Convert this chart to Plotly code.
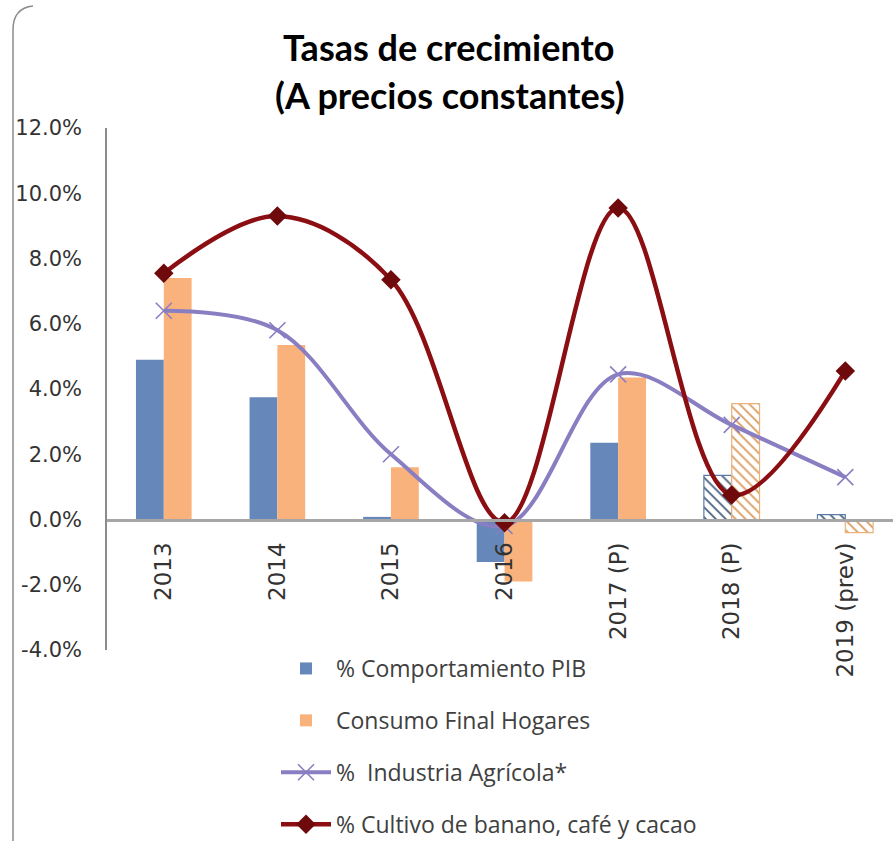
import plotly.graph_objects as go

categories = ["2013", "2014", "2015", "2016", "2017 (P)", "2018 (P)", "2019 (prev)"]
pib = [4.9, 3.75, 0.08, -1.3, 2.35, 1.35, 0.15]
consumo = [7.4, 5.35, 1.6, -1.9, 4.35, 3.55, -0.4]
industria = [6.4, 5.8, 2.0, -0.2, 4.45, 2.9, 1.3]
cultivo = [7.55, 9.3, 7.35, -0.1, 9.55, 0.75, 4.55]
hatched = [False, False, False, False, False, True, True]

y_tick_values = [-4, -2, 0, 2, 4, 6, 8, 10, 12]
y_tick_labels = ["-4.0%", "-2.0%", "0.0%", "2.0%", "4.0%", "6.0%", "8.0%", "10.0%", "12.0%"]

names = ["% Comportamiento PIB", "Consumo Final Hogares",
         "%  Industria Agrícola*", "% Cultivo de banano, café y cacao"]

W, H = 893, 841
L, R, T, B = 107, 0, 128, 191
pw, ph = W - L - R, H - T - B


def px(x):
    return (x - L) / pw


def py(y):
    return (H - B - y) / ph


BLUE = "#6587B9"
ORANGE = "#F9B27C"
PURPLE = "#8A7EC2"
RED = "#8B0F12"

fig = go.Figure()

fig.add_trace(go.Bar(
    x=categories, y=pib, name=names[0], legendgroup="a",
    marker=dict(
        color=BLUE,
        line=dict(color=["rgba(0,0,0,0)" if not h else "#5C7BA8" for h in hatched],
                  width=[1.2 if h else 0 for h in hatched]),
        pattern=dict(shape=["\\" if h else "" for h in hatched],
                     fgcolor="#46607F", bgcolor="white", size=7, solidity=0.25,
                     fillmode="replace"),
    ),
))
fig.add_trace(go.Bar(
    x=categories, y=consumo, name=names[1], legendgroup="b",
    marker=dict(
        color=ORANGE,
        line=dict(color=["rgba(0,0,0,0)" if not h else "#E9B27A" for h in hatched],
                  width=[1.2 if h else 0 for h in hatched]),
        pattern=dict(shape=["\\" if h else "" for h in hatched],
                     fgcolor="#D99A5C", bgcolor="white", size=7, solidity=0.25,
                     fillmode="replace"),
    ),
))
fig.add_trace(go.Scatter(
    x=categories, y=industria, name=names[2], legendgroup="c",
    mode="lines+markers",
    line=dict(color=PURPLE, width=4, shape="spline", smoothing=1.0),
    marker=dict(symbol="x-thin", size=16, line=dict(color=PURPLE, width=1.6)),
))
fig.add_trace(go.Scatter(
    x=categories, y=cultivo, name=names[3], legendgroup="d",
    mode="lines+markers",
    line=dict(color=RED, width=4.5, shape="spline", smoothing=1.0),
    marker=dict(symbol="diamond", size=15, color="#6E0A0C"),
))

# chart border (decorative frame, left side with rounded top corner)
fig.add_shape(type="path", xref="paper", yref="paper",
              path=f"M {px(13)},{py(841)} L {px(13)},{py(30)} Q {px(13)},{py(8)} {px(33)},{py(6)}",
              line=dict(color="#8C8C8C", width=1.5))

fig.add_annotation(text="<b>Tasas de crecimiento</b>", xref="paper", yref="paper",
                   x=px(448), y=py(47), showarrow=False, xanchor="center", yanchor="middle",
                   font=dict(family="Lato", size=36, color="#000000"))
fig.add_annotation(text="<b>(A precios constantes)</b>", xref="paper", yref="paper",
                   x=px(450), y=py(95), showarrow=False, xanchor="center", yanchor="middle",
                   font=dict(family="Lato", size=36, color="#000000"))

fig.update_layout(
    width=W, height=H,
    margin=dict(l=L, r=R, t=T, b=B, pad=0, autoexpand=False),
    paper_bgcolor="white", plot_bgcolor="white",
    barmode="group", bargap=0.51, bargroupgap=0,
    showlegend=True,
    legend=dict(x=px(276), y=py(647), xanchor="left", yanchor="top",
                traceorder="grouped", tracegroupgap=19,
                font=dict(family="Open Sans", size=23, color="#404040"),
                bgcolor="rgba(0,0,0,0)", itemwidth=50),
    xaxis=dict(
        type="category", range=[-0.5, 6.42], automargin=False,
        anchor="free", position=0.25,
        showline=True, linecolor="#A6A6A6", linewidth=2.5,
        showgrid=False, zeroline=False, ticks="",
        tickangle=-90, ticklabelstandoff=12,
        tickfont=dict(family="DejaVu Sans", size=23, color="#333333"),
    ),
    yaxis=dict(
        range=[-4, 12], automargin=False,
        tickvals=y_tick_values, ticktext=y_tick_labels,
        showline=True, linecolor="#8C8C8C", linewidth=1.5,
        showgrid=False, zeroline=False, ticks="",
        ticklabelstandoff=19,
        tickfont=dict(family="DejaVu Sans", size=21, color="#333333"),
    ),
)

fig.write_html("out.html")
